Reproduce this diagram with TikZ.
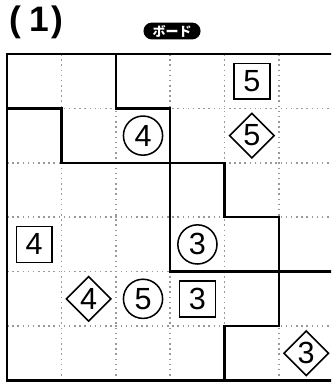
\documentclass[tikz,border=0pt]{standalone}
\usepackage{fontspec}
\setmainfont{Liberation Sans}
\newfontfamily\jpfont{Noto Sans CJK JP}
\usetikzlibrary{shapes.geometric}
\tikzset{
  wall/.style   ={line width=1.2pt,line cap=rect},
  guide/.style  ={gray!80,line width=0.8pt,dash pattern=on 0.8pt off 1.9pt},
  clue/.style   ={font=\fontsize{16}{16}\selectfont,inner sep=0pt,line width=0.8pt},
  sqclue/.style ={clue,draw,minimum size=6.6mm},
  ciclue/.style ={clue,draw,circle,minimum size=7.2mm},
  diclue/.style ={clue,draw,diamond,minimum size=8.3mm},
  badge/.style  ={fill=black,text=white,rounded corners=1.55mm,minimum width=10.5mm,
                  minimum height=3.1mm,inner sep=0pt,font=\jpfont\bfseries\fontsize{6.8}{7}\selectfont},
}

\begin{document}
\begin{tikzpicture}
  \clip (-0.129,0.993) rectangle (5.956,-6.029);
  \node[anchor=west,font=\bfseries\fontsize{18.5}{18.5}\selectfont] (title) at (-0.07,0.59) {(\kern4pt1\kern1.5pt)};
  \node[badge] (board) at (3.033,0.423) {ボード};
  % cell guides
  \foreach \i in {1,...,5} {
    \draw[guide] (\i,0) -- (\i,-6);
    \draw[guide] (0,-\i) -- (6,-\i);
  }
  % region walls
  \draw[wall] (0,0) rectangle (6,-6);
  \draw[wall] (2,0) -- (2,-1);
  \draw[wall] (0,-1) -- (1,-1) -- (1,-2) -- (4,-2) -- (4,-3) -- (5,-3) -- (5,-5) -- (4,-5) -- (4,-6);
  \draw[wall] (2,-1) -- (3,-1) -- (3,-4) -- (6,-4);
  % clues
  \node[sqclue] (sq5) at (4.5,-0.5) {5};
  \node[ciclue] (ci4) at (2.5,-1.5) {4};
  \node[diclue] (di5) at (4.5,-1.5) {5};
  \node[sqclue] (sq4) at (0.5,-3.5) {4};
  \node[ciclue] (ci3) at (3.5,-3.5) {3};
  \node[diclue] (di4) at (1.5,-4.5) {4};
  \node[ciclue] (ci5) at (2.5,-4.5) {5};
  \node[sqclue] (sq3) at (3.5,-4.5) {3};
  \node[diclue] (di3) at (5.5,-5.5) {3};
\end{tikzpicture}
\end{document}
